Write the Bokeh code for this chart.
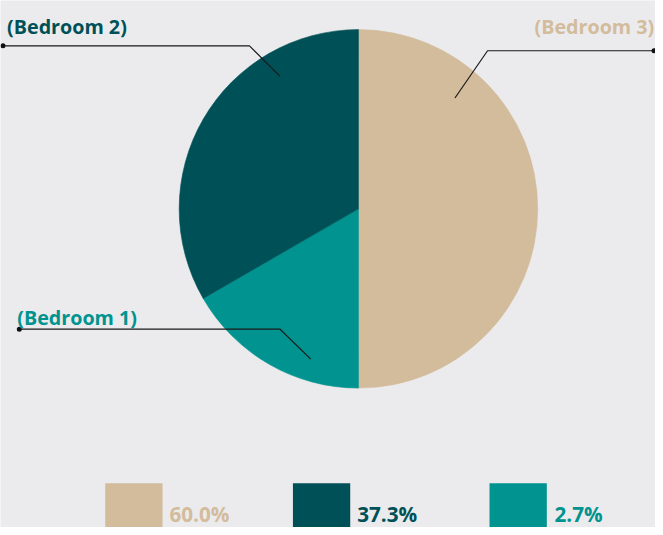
import numpy as np
from bokeh.plotting import figure
from bokeh.models import Range1d, ColumnDataSource
from bokeh.core.properties import value
from bokeh.embed import file_html
from bokeh.resources import INLINE

# ---- data ----
categories = ["Bedroom 3", "Bedroom 2", "Bedroom 1"]
slice_values = [3, 2, 1]
legend_labels = ["60.0%", "37.3%", "2.7%"]
slice_labels = ["(Bedroom 3)", "(Bedroom 2)", "(Bedroom 1)"]
colors = ["#d3bc9c", "#005157", "#00938f"]
draw_order = ["Bedroom 3", "Bedroom 1", "Bedroom 2"]  # clockwise from 12 o'clock

# ---- layout (reference pixel space, y measured downward) ----
W_REF, H_REF = 663, 535
W, H = 655, 527
S = (W / W_REF + H / H_REF) / 2
BG = "#ebebed"

def Y(v):
    return H_REF - v

p = figure(width=W, height=H, x_range=Range1d(0, W_REF), y_range=Range1d(0, H_REF),
           output_backend="svg", toolbar_location=None, min_border=0)
p.axis.visible = False
p.grid.visible = False
p.outline_line_color = None
p.background_fill_color = BG
p.border_fill_color = BG

# ---- pie ----
cx, cy, r = 362.3, Y(211.5), 181.7 * S
total = float(sum(slice_values))
val = dict(zip(categories, slice_values))
col = dict(zip(categories, colors))
starts, ends, fills = [], [], []
c0 = 0.0
for cat in draw_order:
    c1 = c0 + 360.0 * val[cat] / total
    starts.append(np.deg2rad(90.0 - c1))
    ends.append(np.deg2rad(90.0 - c0))
    fills.append(col[cat])
    c0 = c1
pie_src = ColumnDataSource(dict(x=[cx] * len(starts), y=[cy] * len(starts),
                                start=starts, end=ends, color=fills))
p.wedge(x="x", y="y", radius=r, radius_units="screen", start_angle="start", end_angle="end",
        direction="anticlock", fill_color="color", line_color="color",
        line_width=0.6, source=pie_src)

# ---- leader lines (outer dot -> elbow -> anchor in slice) ----
leaders = {
    "Bedroom 3": [(661.5, 51), (493, 51), (460, 99)],
    "Bedroom 2": [(2.5, 46), (252, 46), (283, 77)],
    "Bedroom 1": [(19, 333.7), (283, 333.7), (314, 364)],
}
for cat in categories:
    pts = leaders[cat]
    p.line([q[0] for q in pts], [Y(q[1]) for q in pts], line_color="#1a1a1a", line_width=1.2)
    p.scatter([pts[0][0]], [Y(pts[0][1])], size=5, fill_color="#111111", line_color=None)

# ---- slice labels ----
label_pos = {
    "Bedroom 3": (661.7, 26.7, "right"),
    "Bedroom 2": (6.7, 26.7, "left"),
    "Bedroom 1": (17.0, 322.3, "left"),
}
for cat, lab in zip(categories, slice_labels):
    x, y, al = label_pos[cat]
    p.text([x], [Y(y)], text=[lab], text_align=al, text_baseline="alphabetic",
           text_font=value("Open Sans"), text_font_style="bold",
           text_font_size=f"{20 * S:.1f}px", text_color=col[cat])

# ---- legend ----
sq_left = [106, 296, 495]
sq_w = 58
sq_top, sq_bottom = 490, 545
txt_x = [171, 361, 560.7]
txt_base = 521.3
p.quad(left=sq_left, right=[v + sq_w for v in sq_left], top=[Y(sq_top)] * 3,
       bottom=[Y(sq_bottom)] * 3, fill_color=colors, line_color=None)
p.text(txt_x, [Y(txt_base)] * 3, text=legend_labels, text_align="left",
       text_baseline="alphabetic", text_font=value("Open Sans"), text_font_style="bold",
       text_font_size=f"{21 * S:.1f}px", text_color=colors)

open("out.html", "w").write(file_html(p, INLINE))
